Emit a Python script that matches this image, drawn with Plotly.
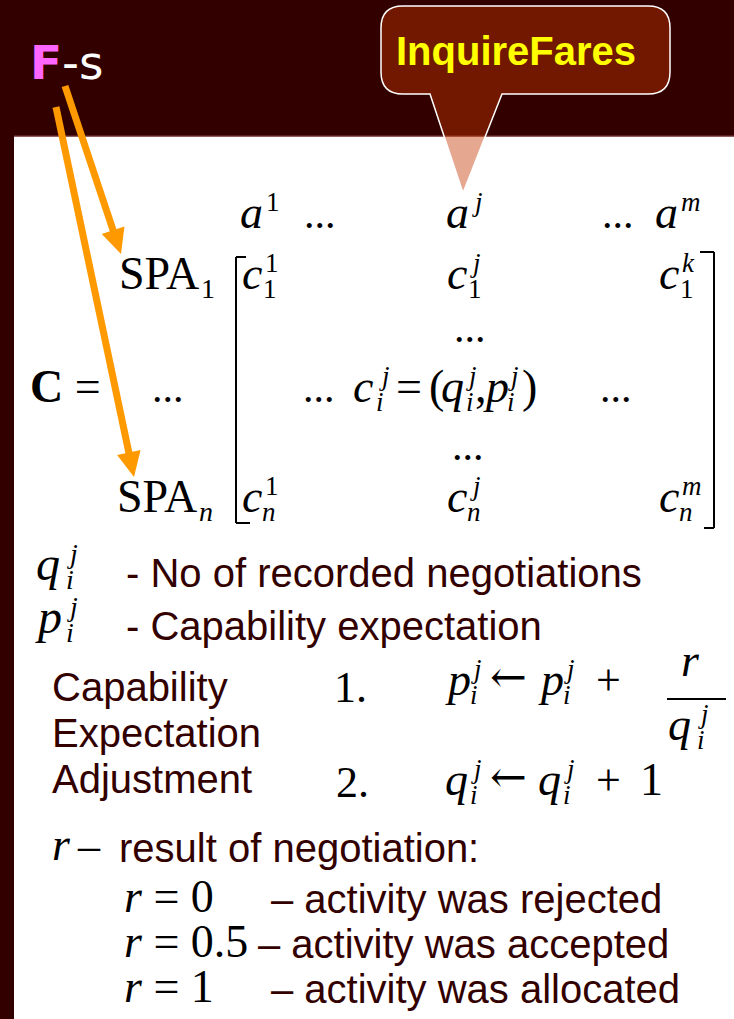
import numpy as np
import plotly.graph_objects as go

# ---------------- content ----------------
header_sups = ["1", "j", "m"]
row1_sups = ["1", "j", "k"]
rown_sups = ["1", "j", "m"]
spa_subs = ["1", "n"]
legend_syms = ["q", "p"]
legend_texts = ["- No of recorded negotiations", "- Capability expectation"]
cea_words = ["Capability", "Expectation", "Adjustment"]
step_nums = ["1.", "2."]
r_values = ["0", "0.5", "1"]
r_meanings = ["– activity was rejected", "– activity was accepted", "– activity was allocated"]
callout_text = "InquireFares"
result_text = "result of negotiation:"

W, H = 734, 1019
DARK = "#330000"
SERIF = "Liberation Serif, Times New Roman, serif"
SANS = "Liberation Sans, Arial, sans-serif"
ORANGE = "#FF9900"
BODY = 40

ann = []


def T(x, base, text, size, family=SERIF, color="black", anchor="left"):
    ann.append(dict(x=x, y=base - 0.34 * size, xref="x", yref="y", text=text,
                    showarrow=False, xanchor=anchor, yanchor="middle",
                    borderpad=0, borderwidth=0,
                    font=dict(family=family, size=size, color=color)))


def sc(s):
    return s if s.isdigit() else "<i>%s</i>" % s


def M(x, base, sym, sup=None, sub=None, sx=None, bx=None, size=46, ss=27):
    T(x, base, "<i>%s</i>" % sym, size)
    if sup is not None:
        T(sx, base - 17, sc(sup), ss)
    if sub is not None:
        T(bx, base + 9, sc(sub), ss)


# ---------------- header ----------------
T(30, 78, '<span style="color:#ff66ff"><b>F</b></span>-s', 47,
  family="DejaVu Sans, Verdana, sans-serif", color="white")
T(396, 65, "<b>%s</b>" % callout_text, 40, family=SANS, color="#FFFF00")

# ---------------- matrix ----------------
hx = [240, 446, 655]
for x, s in zip(hx, header_sups):
    M(x, 228, "a", sup=s, sx=x + 26)
T(304, 228, "...", 42)
T(602, 228, "...", 42)

T(119, 289, "SPA", 46)
T(201, 298, spa_subs[0], 28)
T(117, 512, "SPA", 46)
T(199, 521, "<i>%s</i>" % spa_subs[1], 28)

cx = [242, 447, 659]
for x, s in zip(cx, row1_sups):
    M(x, 289, "c", sup=s, sub="1", sx=x + 23, bx=x + 21)
for x, s in zip(cx, rown_sups):
    M(x, 512, "c", sup=s, sub="n", sx=x + 23, bx=x + 20)

T(454, 342, "...", 42)
T(452, 460, "...", 42)

T(30, 402, "<b>C</b> =", 46)
T(152, 402, "...", 42)
T(303, 402, "...", 42)
M(353, 402, "c", sup="j", sub="i", sx=379, bx=376)
T(396, 402, "=", 46)
T(429, 402, "(", 46)
M(441, 402, "q", sup="j", sub="i", sx=466, bx=466)
T(475, 402, ",", 46)
M(483, 402, "p", sup="j", sub="i", sx=508, bx=507)
T(522, 402, ")", 46)
T(600, 402, "...", 42)

# ---------------- legend ----------------
M(36, 580, "q", sup="j", sub="i", sx=67, bx=66, size=48, ss=28)
T(126, 587, legend_texts[0], BODY, family=SANS, color=DARK)
M(35, 633, "p", sup="j", sub="i", sx=67, bx=66, size=48, ss=28)
T(126, 640, legend_texts[1], BODY, family=SANS, color=DARK)

for i, w in enumerate(cea_words):
    T(52, 701 + 46 * i, w, BODY, family=SANS, color=DARK)

T(334, 702, step_nums[0], 44)
T(336, 797, step_nums[1], 44)

ARROWF = "DejaVu Serif, DejaVu Sans, serif"
# formula 1
M(445, 695, "p", sup="j", sub="i", sx=471, bx=470)
T(490, 691, "←", 44, family=ARROWF)
M(538, 695, "p", sup="j", sub="i", sx=564, bx=563)
T(596, 695, "+", 44)
T(681, 676, "<i>r</i>", 46)
M(668, 740, "q", sup="j", sub="i", sx=698, bx=697)

# formula 2
M(445, 795, "q", sup="j", sub="i", sx=471, bx=470)
T(490, 791, "←", 44, family=ARROWF)
M(538, 795, "q", sup="j", sub="i", sx=564, bx=563)
T(596, 795, "+", 44)
T(640, 795, "1", 46)

# result of negotiation
T(52, 860, "<i>r</i>", 46)
T(77, 860, "–", 44)
T(119, 862, result_text, BODY, family=SANS, color=DARK)
ry = [912, 957, 1002]
dx = [271, 258, 271]
for v, m, y, x in zip(r_values, r_meanings, ry, dx):
    T(124, y, "<i>r</i> = %s" % v, 46)
    T(x, y + 1, m, BODY, family=SANS, color=DARK)

# ---------------- shapes ----------------
shapes = []
shapes.append(dict(type="rect", x0=14, x1=W, y0=136, y1=H, xref="x", yref="y",
                   fillcolor="white", line=dict(width=0), layer="below"))
shapes.append(dict(type="line", x0=14, x1=W, y0=136, y1=136, xref="x", yref="y",
                   line=dict(color="#6a2a2a", width=1.5)))

blk = dict(color="black", width=2)
for seg in [(236, 257, 236, 523), (236, 257, 246, 257), (236, 523, 250, 523),
            (714, 252, 714, 528), (700, 252, 714, 252), (704, 528, 714, 528)]:
    shapes.append(dict(type="line", x0=seg[0], y0=seg[1], x1=seg[2], y1=seg[3],
                       xref="x", yref="y", line=blk))

shapes.append(dict(type="line", x0=667, x1=726, y0=699, y1=699, xref="x", yref="y",
                   line=dict(color="black", width=2)))

# callout
bx0, bx1, by0, by1, r = 381, 670, 6, 94, 22
tl, tr, tip = 430, 502, (463, 193)
path = (f"M {bx0+r},{by0} L {bx1-r},{by0} Q {bx1},{by0} {bx1},{by0+r} "
        f"L {bx1},{by1-r} Q {bx1},{by1} {bx1-r},{by1} L {tr},{by1} "
        f"L {tip[0]},{tip[1]} L {tl},{by1} L {bx0+r},{by1} "
        f"Q {bx0},{by1} {bx0},{by1-r} L {bx0},{by0+r} Q {bx0},{by0} {bx0+r},{by0} Z")
shapes.append(dict(type="path", path=path, xref="x", yref="y",
                   fillcolor="rgba(196,55,0,0.44)", line=dict(color="white", width=1.5)))

arrows = [((65, 86), (121, 254)), ((56, 107), (134, 477))]
for (s, t) in arrows:
    s = np.array(s, float)
    t = np.array(t, float)
    u = (t - s) / np.linalg.norm(t - s)
    n = np.array([-u[1], u[0]])
    L, hw = 25, 12
    b = t - L * u
    shapes.append(dict(type="line", x0=s[0], y0=s[1], x1=b[0] + 2 * u[0], y1=b[1] + 2 * u[1],
                       xref="x", yref="y", line=dict(color=ORANGE, width=7)))
    p1, p2 = b + hw * n, b - hw * n
    shapes.append(dict(type="path", xref="x", yref="y",
                       path=f"M {t[0]},{t[1]} L {p1[0]},{p1[1]} L {p2[0]},{p2[1]} Z",
                       fillcolor=ORANGE, line=dict(width=0)))

fig = go.Figure()
fig.update_layout(
    width=W, height=H, autosize=False,
    margin=dict(l=0, r=0, t=0, b=0),
    paper_bgcolor=DARK, plot_bgcolor=DARK,
    xaxis=dict(range=[0, W], visible=False, fixedrange=True),
    yaxis=dict(range=[H, 0], visible=False, fixedrange=True),
    shapes=shapes, annotations=ann, showlegend=False,
)
fig.write_html("out.html", config=dict(displayModeBar=False),
               post_script="document.body.style.margin='0';document.body.style.overflow='hidden';")
